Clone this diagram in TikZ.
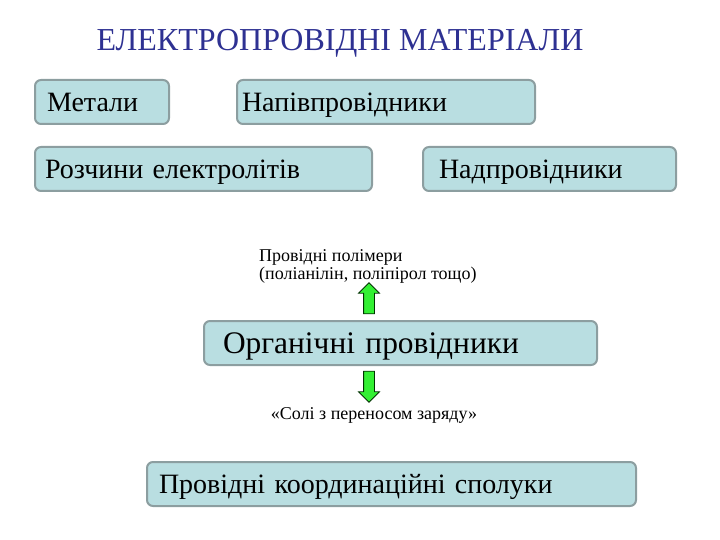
\documentclass[tikz,border=0pt]{standalone}
\usepackage{fontspec}
\setmainfont{Liberation Serif}
\usetikzlibrary{shapes.arrows}
\definecolor{boxfill}{RGB}{185,222,225}
\definecolor{boxline}{RGB}{140,158,160}
\definecolor{titleblue}{RGB}{46,49,146}
\definecolor{arrowgreen}{RGB}{51,240,51}
\tikzset{
	box/.style={draw=boxline, line width=2pt, fill=boxfill, rounded corners=6pt,
		anchor=north west, minimum height=44pt, inner ysep=0pt,
		text height=21.5pt, text depth=3pt,
		font={\fontsize{28pt}{30}\selectfont}},
	note/.style={align=left, inner sep=0pt, font={\fontsize{18pt}{18}\selectfont}},
	blockarrow/.style={single arrow, draw=black!80!green, line width=0.8pt, fill=arrowgreen,
		minimum height=31pt, minimum width=20pt, inner sep=5pt,
		single arrow head extend=5pt, single arrow head indent=0pt}
}

\begin{document}
\begin{tikzpicture}[x=1pt, y=-1pt]
                \useasboundingbox (0,0) rectangle (720,540);
                \node (title) [anchor=base, text=titleblue, font={\fontsize{32pt}{34}\selectfont}] at (340,51) {ЕЛЕКТРОПРОВІДНІ МАТЕРІАЛИ};
                \node (met) [box, text width=110pt, inner xsep=12pt] at (34,79) {Метали};
                \node (semi) [box, text width=288pt, inner xsep=5pt] at (236,79) {Напівпровідники};
                \node (elec) [box, text width=317pt, inner xsep=10pt] at (34,146) {Розчини електролітів};
                \node (super) [box, text width=221pt, inner xsep=16pt] at (422,146) {Надпровідники};
                \node (org) [box, text width=355pt, inner xsep=19pt, text height=24pt, text depth=3pt, font={\fontsize{31.4pt}{34}\selectfont}] at (203,320) {Органічні провідники};
                \node (coord) [box, text width=465pt, inner xsep=12pt] at (146,461) {Провідні координаційні сполуки};
                \node (poly) [note, anchor=base west] at (259,279) {Провідні полімери\\(поліанілін, поліпірол тощо)};
                \node (salt) [note, anchor=base] at (374,419) {«Солі з переносом заряду»};
                \node (up) [blockarrow, shape border rotate=90] at (369,301) {};
                \node (down) [blockarrow, shape border rotate=270] at (369,384) {};
            \end{tikzpicture}
\end{document}
